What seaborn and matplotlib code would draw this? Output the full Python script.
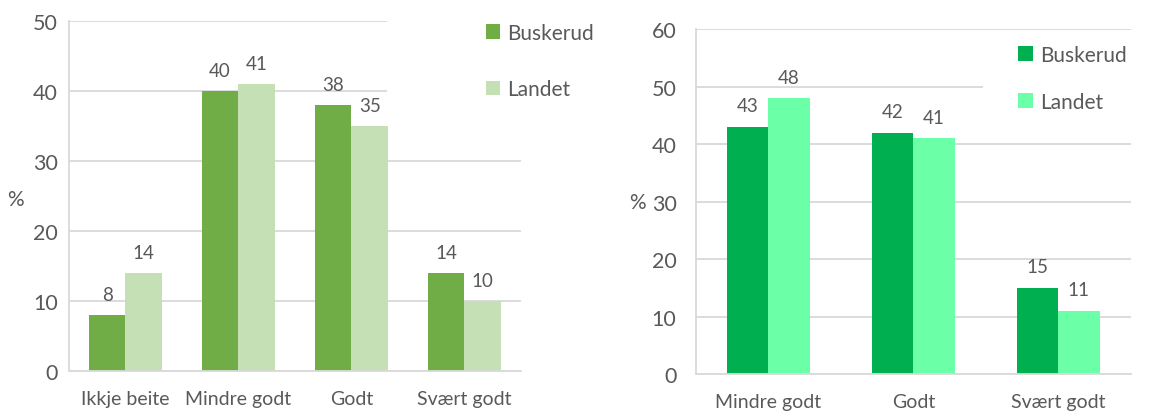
import pandas as pd
import matplotlib
matplotlib.use("Agg")
import matplotlib.pyplot as plt
from matplotlib.patches import Rectangle
import seaborn as sns

# data
kat_venstre = ["Ikkje beite", "Mindre godt", "Godt", "Svært godt"]
buskerud_venstre = [8, 40, 38, 14]
landet_venstre = [14, 41, 35, 10]

kat_hoyre = ["Mindre godt", "Godt", "Svært godt"]
buskerud_hoyre = [43, 42, 15]
landet_hoyre = [48, 41, 11]

serier = ["Buskerud", "Landet"]

sns.set_style("white")
plt.rcParams["font.family"] = ["Lato", "DejaVu Sans"]

GRAA = "#595959"
GRID = "#D9D9D9"


def lag_df(kat, busk, land):
    return pd.DataFrame({
        "kategori": kat * 2,
        "serie": ["Buskerud"] * len(kat) + ["Landet"] * len(kat),
        "verdi": busk + land,
    })


def tegn(ax, df, kat, farger, ymax, bredde, ypad, leg_anchor, spacing, dekk):
    sns.barplot(data=df, x="kategori", y="verdi", hue="serie", order=kat,
                hue_order=serier, palette=farger, width=bredde, saturation=1,
                ax=ax, edgecolor="none")
    for c in ax.containers:
        ax.bar_label(c, fmt="%d", padding=9, fontsize=13.5, color=GRAA)
    ax.set_ylim(0, ymax)
    ax.set_xlim(-0.5, len(kat) - 0.5)
    ax.set_yticks(range(0, ymax + 1, 10))
    ax.set_axisbelow(True)
    ax.yaxis.grid(True, color=GRID, linewidth=1.3)
    for s in ["top", "right"]:
        ax.spines[s].set_visible(False)
    for s in ["left", "bottom"]:
        ax.spines[s].set_color(GRID)
        ax.spines[s].set_linewidth(1.3)
    ax.set_xlabel("")
    ax.set_ylabel("")
    ax.tick_params(axis="y", length=0, labelsize=15.5, labelcolor=GRAA, pad=ypad)
    ax.tick_params(axis="x", which="major", length=0, labelsize=14,
                   labelcolor=GRAA, pad=14)
    ax.set_xticks([i - 0.5 for i in range(len(kat) + 1)], minor=True)
    ax.tick_params(axis="x", which="minor", length=7, color=GRID, width=1.3)
    # hvit bakgrunn bak forklaringen (dekker rutenettet der)
    x0, y0, y1 = dekk
    ax.add_patch(Rectangle((x0, y0), 1.02 - x0, y1 - y0, facecolor="white",
                           edgecolor="none", zorder=0.7, clip_on=False,
                           transform=ax.get_yaxis_transform()))
    handles, labels = ax.get_legend_handles_labels()
    ax.legend(handles, labels, loc="upper left", bbox_to_anchor=leg_anchor,
              bbox_transform=ax.figure.transFigure, frameon=False,
              fontsize=15, labelcolor=GRAA, handlelength=0.7,
              handleheight=0.7, handletextpad=0.35, labelspacing=spacing,
              borderpad=0.4)


fig = plt.figure(figsize=(11.5, 4.14), dpi=100)
ax1 = fig.add_axes([0.060, 0.1014, 0.393, 0.845])
ax2 = fig.add_axes([0.6052, 0.0942, 0.378, 0.833])

tegn(ax1, lag_df(kat_venstre, buskerud_venstre, landet_venstre), kat_venstre,
     ["#70AD47", "#C5E0B4"], 50, 0.65, 8, (0.406, 0.988), 1.75,
     (0.703, 37, 51))
tegn(ax2, lag_df(kat_hoyre, buskerud_hoyre, landet_hoyre), kat_hoyre,
     ["#00B050", "#6BFFA8"], 60, 0.57, 14, (0.869, 0.935), 1.3,
     (0.66, 45, 55))

fig.text(15 / 1150, 1 - 200 / 414, "%", fontsize=15, color=GRAA,
         ha="center", va="center")
fig.text(637 / 1150, 1 - 203 / 414, "%", fontsize=15, color=GRAA,
         ha="center", va="center")

fig.savefig("out.png", dpi=100, facecolor="white")
